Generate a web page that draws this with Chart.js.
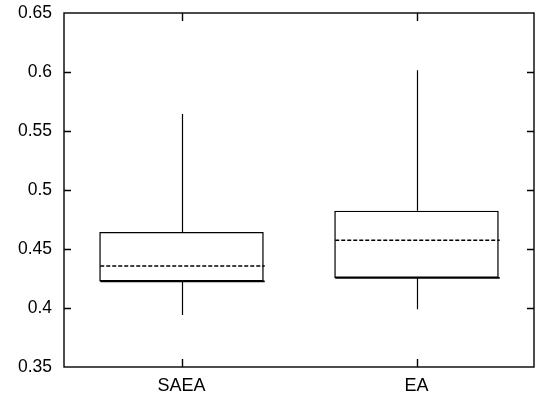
<!DOCTYPE html>
<html>
<head>
<meta charset="utf-8">
<script src="https://cdn.jsdelivr.net/npm/chart.js@4/dist/chart.umd.min.js"></script>
<style>
  html, body { margin: 0; padding: 0; background: #fff; }
  canvas { display: block; }
</style>
</head>
<body>
<canvas id="c" width="536" height="399"></canvas>
<script>
// Box plot statistics per algorithm
const categories = ['SAEA', 'EA'];
const whiskerLow  = [0.394, 0.399];
const quartile1   = [0.4225, 0.4255];
const medians     = [0.4225, 0.4255];
const means       = [0.4355, 0.4575];
const quartile3   = [0.4645, 0.4825];
const whiskerHigh = [0.5645, 0.6015];
const yTicks      = [0.35, 0.4, 0.45, 0.5, 0.55, 0.6, 0.65];

const FONT = { family: '"Liberation Sans", Arial, Helvetica, sans-serif', size: 18 };

// Frame, inward tick marks, whiskers, median and mean lines
const boxDecor = {
  id: 'boxDecor',
  afterDatasetsDraw(chart) {
    const { ctx, chartArea: a, scales: { x, y } } = chart;
    ctx.save();
    ctx.strokeStyle = '#000';

    categories.forEach((_, i) => {
      const cx = Math.round(x.getPixelForValue(i)) + 0.5;
      const meta = chart.getDatasetMeta(0).data[i];
      const half = meta.width / 2;
      const px = v => y.getPixelForValue(v);

      // whiskers
      ctx.lineWidth = 1.2;
      ctx.setLineDash([]);
      ctx.beginPath();
      ctx.moveTo(cx, px(quartile3[i])); ctx.lineTo(cx, px(whiskerHigh[i]));
      ctx.moveTo(cx, px(quartile1[i])); ctx.lineTo(cx, px(whiskerLow[i]));
      ctx.stroke();

      // median
      ctx.lineWidth = 1.8;
      ctx.beginPath();
      ctx.moveTo(cx - half, px(medians[i])); ctx.lineTo(cx + half, px(medians[i]));
      ctx.stroke();

      // mean (dashed)
      ctx.lineWidth = 1.5;
      ctx.setLineDash([4, 2]);
      ctx.beginPath();
      ctx.moveTo(cx - half, px(means[i])); ctx.lineTo(cx + half, px(means[i]));
      ctx.stroke();
      ctx.setLineDash([]);
    });

    // frame
    ctx.lineWidth = 1.4;
    ctx.strokeRect(a.left, a.top, a.right - a.left, a.bottom - a.top);

    // inward ticks on left and right
    ctx.beginPath();
    yTicks.forEach(v => {
      const py = Math.round(y.getPixelForValue(v)) + 0.5;
      if (py <= a.top + 1 || py >= a.bottom - 1) return;
      ctx.moveTo(a.left, py); ctx.lineTo(a.left + 7, py);
      ctx.moveTo(a.right, py); ctx.lineTo(a.right - 7, py);
    });
    // inward ticks on top and bottom
    categories.forEach((_, i) => {
      const px = Math.round(x.getPixelForValue(i)) + 0.5;
      ctx.moveTo(px, a.bottom); ctx.lineTo(px, a.bottom - 8);
      ctx.moveTo(px, a.top); ctx.lineTo(px, a.top + 8);
    });
    ctx.stroke();
    ctx.restore();
  }
};

new Chart(document.getElementById('c'), {
  type: 'bar',
  data: {
    labels: categories,
    datasets: [{
      data: categories.map((_, i) => [quartile1[i], quartile3[i]]),
      backgroundColor: 'rgba(255,255,255,0)',
      borderColor: '#000',
      borderWidth: 1.4,
      borderSkipped: false,
      barPercentage: 0.7,
      categoryPercentage: 1.0
    }]
  },
  options: {
    responsive: false,
    animation: false,
    layout: { padding: { top: 13, right: 2, left: 0, bottom: 0 } },
    plugins: { legend: { display: false }, tooltip: { enabled: false } },
    scales: {
      x: {
        grid: { display: false, drawTicks: false },
        border: { display: false },
        ticks: { color: '#000', font: FONT, padding: 8 },
        afterFit(s) { s.height = 32; s.paddingLeft = 0; s.paddingRight = 0; }
      },
      y: {
        min: 0.35, max: 0.65,
        afterBuildTicks(s) { s.ticks = yTicks.map(v => ({ value: v })); },
        grid: { display: false, drawTicks: false },
        border: { display: false },
        ticks: {
          color: '#000', font: { family: FONT.family, size: 17.5 }, padding: 12,
          callback: v => String(+Number(v).toFixed(2))
        },
        afterFit(s) { s.width = 64; s.paddingTop = 0; s.paddingBottom = 0; }
      }
    }
  },
  plugins: [boxDecor]
});
</script>
</body>
</html>
